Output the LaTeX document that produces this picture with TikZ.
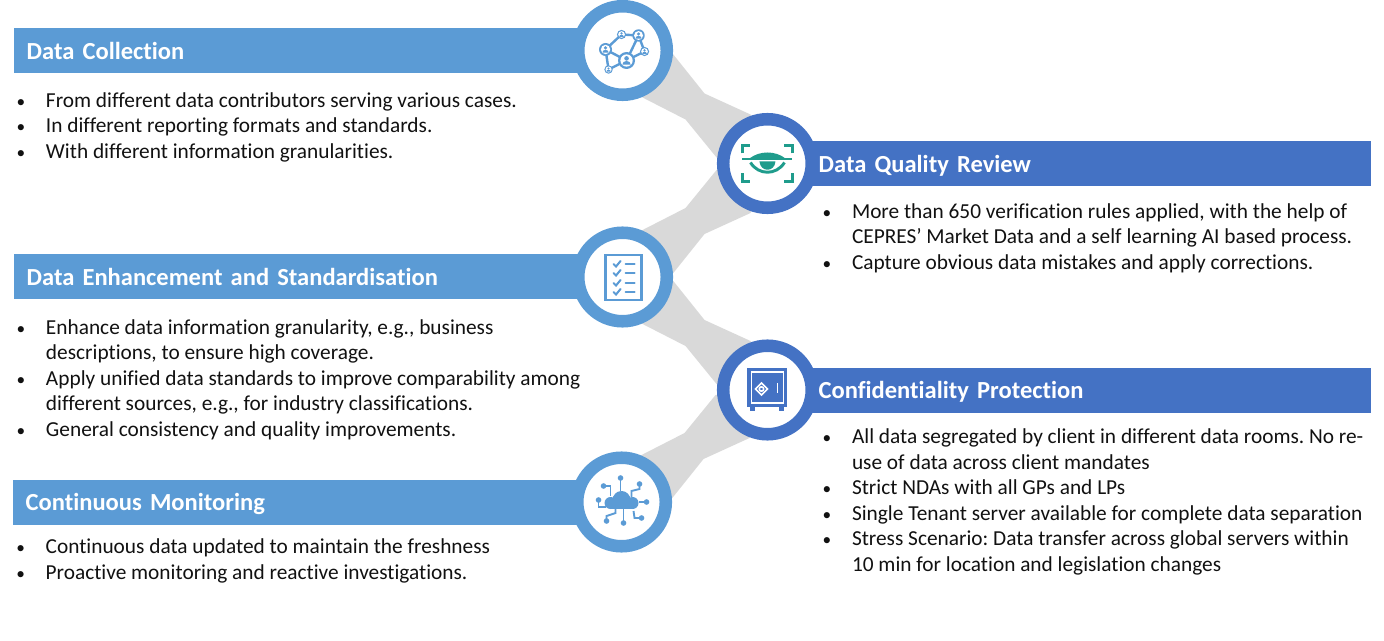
\documentclass[tikz,border=0pt]{standalone}
\usepackage{xcolor}
\usepackage{fontspec}
\setmainfont{Carlito}[Ligatures=NoCommon, BoldFeatures={WordSpace=0.7}]
\frenchspacing
\usetikzlibrary{positioning,backgrounds}
\definecolor{lightbar}{HTML}{5B9BD5}
\definecolor{darkbar}{HTML}{4472C4}
\definecolor{bandgray}{HTML}{D9D9D9}
\definecolor{eyeteal}{HTML}{1F9C8C}
\definecolor{bodytext}{HTML}{111111}
\newcommand{\bul}{\par\hangindent=22pt\hangafter=1\noindent\hbox to 22pt{\fontsize{13}{13}\selectfont\textbullet\hfil}}
\newcommand{\person}[3]{%
  \fill[lightbar] (#1,#2) circle (#3);
  \fill[white] (#1,#2) circle (0.72*#3);
  \fill[lightbar] (#1,#2-0.25*#3) circle (0.27*#3);
  \fill[lightbar] (#1-0.5*#3,#2+0.5*#3) arc[start angle=180,end angle=0,x radius=0.5*#3,y radius=-0.45*#3] -- cycle;
}
\begin{document}
\begin{tikzpicture}[
    x=0.75pt, y=-0.75pt,
    leftbar/.style={rectangle, fill=lightbar, text=white, minimum width=432pt, minimum height=33.75pt, text width=413pt, text height=14pt, text depth=0.8pt, inner xsep=9.5pt, inner ysep=0pt, outer sep=0pt, font=\fontsize{18.4}{20}\selectfont\bfseries, anchor=west},
    rightbar/.style={rectangle, fill=darkbar, text=white, minimum width=428pt, minimum height=33.75pt, text width=400pt, text height=14pt, text depth=0.8pt, inner xsep=14pt, inner ysep=0pt, outer sep=0pt, font=\fontsize{18.4}{20}\selectfont\bfseries, anchor=west},
    lefthub/.style={circle, draw=lightbar, fill=white, line width=9.4pt, minimum size=66.4pt, inner sep=0pt},
    righthub/.style={lefthub, draw=darkbar},
    bullets/.style={text=bodytext, inner sep=0pt, outer sep=0pt, anchor=north west, align=none, font=\fontsize{16}{19.1}\selectfont},
    band/.style={fill=bandgray},
    iconline/.style={draw=lightbar, line width=1.8pt, line cap=round}
]
    \useasboundingbox (0,0) rectangle (1384,641);

    \node[leftbar] (collectbar) at (14,50.5) {Data Collection};
    \node[rightbar] (reviewbar) at (800,163.5) {Data Quality Review};
    \node[leftbar] (enhancebar) at (14,277) {Data Enhancement and Standardisation};
    \node[rightbar] (protectbar) at (800,390) {Confidentiality Protection};
    \node[leftbar] (monitorbar) at (13,502) {Continuous Monitoring};

    \node[lefthub, right=-13.5pt of collectbar] (collect) {};
    \node[righthub, left=-13.5pt of reviewbar] (review) {};
    \node[lefthub, right=-13.5pt of enhancebar] (enhance) {};
    \node[righthub, left=-13.5pt of protectbar] (protect) {};
    \node[lefthub, right=-13.5pt of monitorbar] (monitor) {};

    % grey links between the hubs
    \begin{scope}[on background layer]
        \foreach \from/\sgn in {collect/1, enhance/-1, enhance/1, monitor/-1} {
            \begin{scope}[shift={(\from.center)}, yscale=\sgn]
                \fill[band] (0,0) -- (50,3) -- (82,43) -- (128,64) -- (144,112) -- (94,107) -- (63,69) -- (20,47) -- cycle;
            \end{scope}
        }
    \end{scope}

    \node[bullets, text width=430pt, below=6.5pt of collectbar.south west, xshift=2pt, anchor=north west] (collecttext) {%
        \bul From different data contributors serving various cases.
        \bul In different reporting formats and standards.
        \bul With different information granularities.\par};
    \node[bullets, text width=420pt, below=5pt of reviewbar.south west, xshift=17pt, anchor=north west] (reviewtext) {%
        \bul More than 650 verification rules applied, with the help of\newline CEPRES’ Market Data and a self learning AI based process.
        \bul Capture obvious data mistakes and apply corrections.\par};
    \node[bullets, text width=430pt, below=7pt of enhancebar.south west, xshift=2pt, anchor=north west] (enhancetext) {%
        \bul Enhance data information granularity, e.g., business\newline descriptions, to ensure high coverage.
        \bul Apply unified data standards to improve comparability among\newline different sources, e.g., for industry classifications.
        \bul General consistency and quality improvements.\par};
    \node[bullets, text width=420pt, below=4.5pt of protectbar.south west, xshift=17pt, anchor=north west] (protecttext) {%
        \bul All data segregated by client in different data rooms. No re-\newline use of data across client mandates
        \bul Strict NDAs with all GPs and LPs
        \bul Single Tenant server available for complete data separation
        \bul Stress Scenario: Data transfer across global servers within\newline 10 min for location and legislation changes\par};
    \node[bullets, text width=430pt, below=3pt of monitorbar.south west, xshift=2.5pt, anchor=north west] (monitortext) {%
        \bul Continuous data updated to maintain the freshness
        \bul Proactive monitoring and reactive investigations.\par};

    % network icon
    \begin{scope}[shift={(collect.center)}]
        \draw[iconline] (-17,-1) -- (-1,-16) -- (16,-15) -- (22,1) -- (4,10) -- cycle;
        \draw[iconline] (-17,-1) -- (-14,19) -- (4,10) -- (16,-15);
        \person{-17}{-1}{6.5}
        \person{-1}{-16}{4.6}
        \person{16}{-15}{6.2}
        \person{22}{1}{4.6}
        \person{4}{10}{8.5}
        \person{-14}{19}{4.2}
    \end{scope}

    % eye icon
    \begin{scope}[shift={(review.center)}, eyeteal]
        \foreach \sx/\sy in {-1/-1, 1/-1, -1/1, 1/1} {
            \draw[line width=1.7pt] (\sx*25,\sy*10) -- (\sx*25,\sy*18) -- (\sx*17,\sy*18);
        }
        \fill (-18,-5) .. controls (-8,-13) and (8,-13) .. (18,-5) -- cycle;
        \draw[line width=1.5pt] (-25,-4) -- (25,-4);
        \draw[line width=2.2pt] (-17,-1) .. controls (-9,12) and (9,12) .. (17,-1);
        \fill (-8,-2) .. controls (-7,9) and (7,9) .. (8,-2) -- cycle;
    \end{scope}

    % checklist icon
    \begin{scope}[shift={(enhance.center)}]
        \draw[lightbar, line width=2.2pt] (-17,-22) rectangle (19,23);
        \foreach \rowy in {-13,-4,6,15} {
            \draw[lightbar, line width=1.5pt, line cap=round] (-9,\rowy) -- (-6.5,\rowy+2.5) -- (-2,\rowy-3);
            \draw[lightbar, line width=1.5pt, line cap=round] (3,\rowy) -- (12,\rowy);
        }
    \end{scope}

    % safe icon
    \begin{scope}[shift={(protect.center)}]
        \fill[darkbar] (-20,-22) rectangle (20,17);
        \fill[darkbar] (-17,17) rectangle (-12,21);
        \fill[darkbar] (12,17) rectangle (17,21);
        \draw[white, line width=0.9pt] (-16,-18) rectangle (16,13);
        \draw[white, line width=1.3pt] (-6,-7) -- (0,-1) -- (-6,5) -- (-12,-1) -- cycle;
        \draw[white, line width=1.2pt] (-6,-1) circle (2.2);
        \draw[white, line width=1.3pt] (10,-7) -- (10,3);
    \end{scope}

    % cloud icon
    \begin{scope}[shift={(monitor.center)}]
        \fill[lightbar] (-11,1) circle (6);
        \fill[lightbar] (0,-2) circle (9);
        \fill[lightbar] (11,1) circle (6);
        \fill[lightbar] (-11,0) rectangle (11,7);
        \foreach \lx/\ly/\trace in {-1/-24/{(-1,-24) -- (-1,-11)}, -18/-16/{(-18,-16) -- (-11,-16) -- (-11,-6)}, 18/-18/{(18,-18) -- (18,-13) -- (10,-11) -- (10,-5)}, 25/0/{(25,0) -- (17,0)}, 20/16/{(20,16) -- (13,16) -- (12,9)}, 2/21/{(2,21) -- (2,7)}, -15/19/{(-15,19) -- (-15,14) -- (-6,11) -- (-6,7)}, -23/-2/{(-23,-2) -- (-23,5) -- (-16,5)}} {
            \draw[lightbar, line width=1.4pt] \trace;
            \fill[lightbar] (\lx,\ly) circle (2.8);
        }
    \end{scope}
\end{tikzpicture}
\end{document}
